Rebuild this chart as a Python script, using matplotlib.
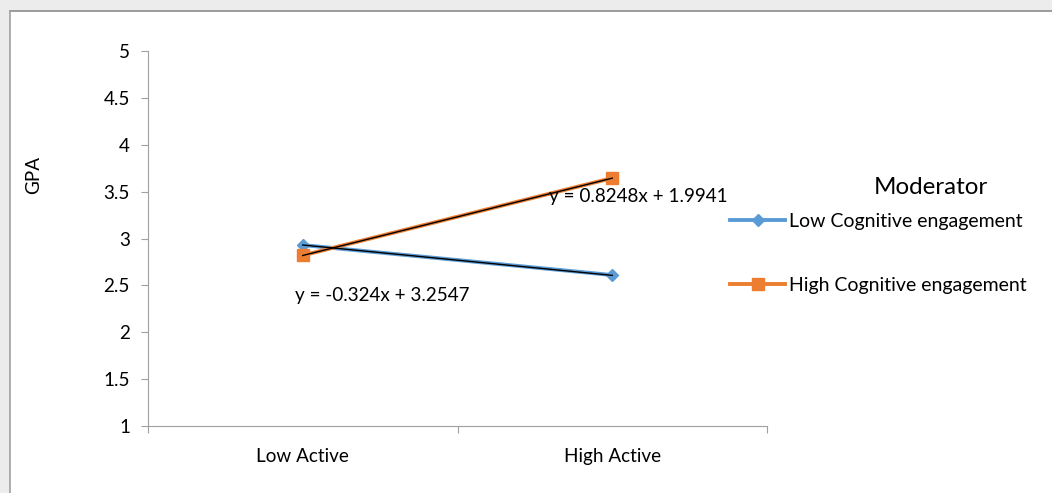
import matplotlib
matplotlib.use("Agg")
import matplotlib.pyplot as plt
from matplotlib.patches import Rectangle
import numpy as np

categories = ["Low Active", "High Active"]
low_cog = [2.93, 2.61]
high_cog = [2.82, 3.645]
series_names = ["Low Cognitive engagement", "High Cognitive engagement"]
legend_title = "Moderator"
trend_low = (-0.324, 3.2547)
trend_high = (0.8248, 1.9941)
yticks = [1, 1.5, 2, 2.5, 3, 3.5, 4, 4.5, 5]

plt.rcParams['font.family'] = ['Lato', 'DejaVu Sans']
FS = 13.6

W, H = 1052, 493
fig = plt.figure(figsize=(W/100, H/100), dpi=100, facecolor='white')
# gray bands on top/left with border lines
fig.add_artist(Rectangle((0, 1 - 11/H), 1, 11/H, transform=fig.transFigure,
                         facecolor='#ececec', edgecolor='none', zorder=-5))
fig.add_artist(Rectangle((0, 0), 10/W, 1, transform=fig.transFigure,
                         facecolor='#ececec', edgecolor='none', zorder=-5))
fig.add_artist(plt.Line2D([10/W, 1], [1 - 11/H, 1 - 11/H], transform=fig.transFigure, color='#8c8c8c', lw=1.2, zorder=-4))
fig.add_artist(plt.Line2D([10/W, 10/W], [0, 1 - 11/H], transform=fig.transFigure, color='#a0a0a0', lw=1.2, zorder=-4))

ax = fig.add_axes([148/W, 67/H, (767-148)/W, (426-51)/H])
ax.set_facecolor('none')
ax.set_zorder(2)
x = np.arange(1, len(categories) + 1)

ax.plot(x, low_cog, color='#5b9bd5', lw=2.8, marker='D', ms=6.5, label=series_names[0], zorder=3)
ax.plot(x, high_cog, color='#ed7d31', lw=2.8, marker='s', ms=9, label=series_names[1], zorder=3)
ax.plot(x, trend_low[0]*x + trend_low[1], color='black', lw=1, zorder=4)
ax.plot(x, trend_high[0]*x + trend_high[1], color='black', lw=1, zorder=4)

ax.text(1.796, 3.453, f"y = {trend_high[0]}x + {trend_high[1]}", fontsize=FS, va='center', ha='left', zorder=5)
ax.text(0.975, 2.387, f"y = {trend_low[0]}x + {trend_low[1]}", fontsize=FS, va='center', ha='left', zorder=5)

ax.set_xlim(0.5, 2.5)
ax.set_ylim(1, 5)
ax.set_yticks(yticks)
ax.set_yticklabels([f"{v:g}" for v in yticks], fontsize=FS)
ax.set_xticks([0.5, 1.5, 2.5], minor=False)
ax.set_xticklabels([])
ax.set_xticks(x, minor=True)
ax.set_xticklabels(categories, minor=True, fontsize=FS)
ax.tick_params(axis='x', which='minor', length=0, pad=16)
ax.tick_params(axis='x', which='major', length=5, color='#a0a0a0', direction='out')
ax.tick_params(axis='y', length=5, color='#a0a0a0', pad=8)
for s in ['top', 'right']:
    ax.spines[s].set_visible(False)
ax.spines['left'].set_color('#a0a0a0')
ax.spines['bottom'].set_color('#a0a0a0')
ax.set_ylabel("GPA", fontsize=FS)
ax.yaxis.set_label_coords((42 - 148)/619, (426 - 175)/375)

leg = ax.legend(loc='center left', bbox_to_anchor=((730-148)/619, (426-253.5)/375),
                frameon=False, fontsize=14, labelspacing=2.4, borderpad=0,
                handlelength=2.85, handletextpad=0.2, borderaxespad=0)
fig.text(931/W, 1 - 188/H, legend_title, fontsize=17.4, ha='center', va='center')
fig.savefig("out.png", dpi=100, facecolor=fig.get_facecolor())
